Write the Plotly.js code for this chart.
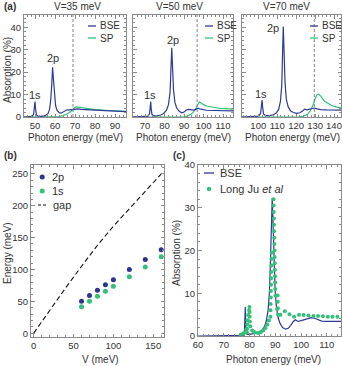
<!DOCTYPE html>
<html>
<head>
<meta charset="utf-8">
<script src="https://cdn.plot.ly/plotly-3.0.1.min.js"></script>
<style>html,body{margin:0;padding:0;background:#fff;}#plot{width:342px;height:366px;}</style>
</head>
<body>
<div id="plot"></div>
<script>
// ---------- Panel (a): absorption spectra ----------
const panelTitles = ["V=35 meV", "V=50 meV", "V=70 meV"];
const gapLines = [69, 96.7, 129.6];

const bse35X = [44.5, 47, 48.5, 49.3, 49.7, 50.0, 50.3, 50.7, 51.5, 53, 55, 56.5, 57.3, 57.9, 58.4, 58.8, 59.2, 59.7, 60.3, 61, 62, 63, 64, 65, 66, 67, 68.5, 70, 71.5, 73, 76, 80, 85, 90, 95.5];
const bse35Y = [0, 0.1, 0.3, 1.2, 3.5, 6.9, 3.5, 1.0, 0.4, 0.3, 0.6, 1.5, 3.5, 8, 15, 22.2, 17, 9, 5, 3, 2.0, 1.7, 2.2, 3.0, 3.2, 3.2, 3.4, 3.7, 3.6, 3.4, 3.2, 3.0, 2.8, 2.6, 2.4];
const sp35X = [44.5, 58, 60, 62, 64, 66, 68, 69, 70, 70.8, 72, 74, 77, 80, 85, 90, 95.5];
const sp35Y = [0, 0, 0.05, 0.2, 0.6, 1.3, 2.6, 3.6, 4.3, 4.5, 4.3, 4.0, 3.6, 3.3, 3.0, 2.7, 2.5];

const bse50X = [63.8, 67, 70, 71.5, 72.3, 72.7, 72.9, 73.1, 73.5, 74.5, 76, 78, 79.5, 81, 82, 82.8, 83.3, 83.7, 84.1, 84.6, 85.3, 86.2, 87.5, 88.8, 90, 91, 92.2, 93.5, 95, 96, 97, 98, 99.5, 101.5, 105, 110, 115.1];
const bse50Y = [0, 0.05, 0.15, 0.4, 1.5, 4, 6.9, 4, 1.2, 0.5, 0.5, 0.9, 1.6, 3, 5.5, 11, 20, 30.9, 22, 12, 6.5, 4, 2.5, 1.9, 2.2, 3.0, 3.4, 3.2, 3.1, 3.4, 3.9, 3.6, 3.2, 3.0, 2.9, 2.8, 2.7];
const sp50X = [63.8, 88, 90, 92, 94, 95.5, 96.5, 97.3, 97.8, 98.5, 100, 102, 105, 108, 111, 115.1];
const sp50Y = [0, 0, 0.1, 0.5, 1.5, 3.0, 4.8, 6.2, 6.8, 6.4, 5.5, 4.8, 4.2, 3.9, 3.7, 3.5];

const bse70X = [91.4, 95, 98, 100, 101.2, 101.7, 102.0, 102.3, 102.8, 104, 106, 108, 109.5, 110.8, 111.7, 112.4, 112.9, 113.2, 113.6, 114.1, 114.8, 115.8, 117, 118.5, 120.3, 122, 123.5, 124.5, 125.6, 127, 128.5, 129.5, 131, 133, 136, 140, 143.7];
const bse70Y = [0, 0.05, 0.15, 0.4, 1.5, 4.5, 7.5, 4.5, 1.3, 0.6, 0.6, 1.0, 1.8, 3.5, 7, 14, 28, 40.4, 30, 16, 8, 4.5, 2.8, 2.0, 1.6, 1.9, 2.8, 3.5, 3.2, 3.4, 3.9, 4.0, 3.6, 3.3, 3.2, 3.2, 3.1];
const sp70X = [91.4, 120, 122, 124, 126, 127.5, 129, 130.2, 131, 131.8, 133, 135, 137, 139, 141, 143.7];
const sp70Y = [0, 0, 0.1, 0.4, 1.2, 2.8, 5.5, 8.5, 9.9, 10.2, 9.3, 7.0, 5.8, 5.0, 4.5, 4.1];

// peak label positions [x, y] per panel
const label1s = [[50, 9.6], [72.6, 9.6], [101.5, 10.2]];
const label2p = [[59, 26.5], [84.5, 34.5], [108, 39.8]];

// ---------- Panel (b): energies vs V ----------
const vValues = [60, 70, 80, 90, 100, 120, 140, 160];
const energy2p = [50, 59, 67.5, 76, 84, 100, 115.5, 131];
const energy1s = [41.5, 50, 58, 66, 73.5, 88.5, 104, 120];
const gapV = [0, 20, 40, 60, 80, 100, 120, 140, 160];
const gapE = [0, 36, 71, 105, 138, 168, 195, 222, 250];

// ---------- Panel (c): comparison ----------
const bseCX = [60, 70, 76, 77.5, 78.0, 78.2, 78.35, 78.6, 79, 80, 82, 84, 85, 85.8, 86.5, 87.2, 87.7, 88.1, 88.5, 88.8, 89.1, 89.5, 89.9, 90.4, 91, 91.8, 92.8, 94, 95, 96, 97, 97.8, 98.8, 100, 102, 104, 105, 106.5, 108, 110, 112, 115.5];
const bseCY = [0, 0, 0.05, 0.15, 0.6, 3, 6.8, 0.8, 0.4, 0.4, 0.6, 1.0, 1.5, 2.2, 3.5, 6, 10, 17, 26, 32.3, 27, 18, 11, 7, 4.5, 3, 2.0, 1.6, 1.8, 2.5, 3.4, 3.8, 3.4, 3.6, 4.0, 4.3, 4.2, 3.8, 3.5, 3.4, 3.4, 3.4];
const juX = [76.5, 77.5, 78.3, 78.8, 79.0, 79.05, 79.1, 79.15, 79.5, 79.8, 80.0, 80.02, 80.05, 80.1, 80.3, 81.0, 82.0, 83.2, 84.3, 85.3, 86.2, 86.9, 87.5, 88.1, 88.15, 88.2, 88.25, 88.3, 88.35, 88.4, 88.45, 88.5, 88.55, 88.6, 89.3, 89.35, 89.4, 89.45, 89.5, 89.55, 89.6, 89.65, 89.7, 89.75, 89.8, 89.85, 89.9, 89.95, 90.0, 90.1, 90.9, 90.95, 91.0, 91.1, 90.7, 92.0, 93.7, 95.5, 97.3, 99.2, 101.0, 102.9, 104.8, 106.6, 108.5, 110.4, 112.2, 114.1];
const juY = [0.3, 0.6, 0.9, 1.6, 0.8, 1.7, 2.7, 3.7, 4.9, 6.0, 6.8, 5.6, 4.5, 3.4, 2.3, 1.3, 0.9, 0.7, 0.9, 1.3, 1.9, 2.7, 3.6, 4.5, 6, 7.5, 9, 10.5, 12, 13.5, 15, 16.5, 18, 19.5, 32, 30.5, 29, 27.5, 26, 24.5, 23, 21.5, 20, 18.5, 17, 15.5, 14, 12.5, 11, 9.5, 9.5, 8, 6.5, 5, 6.3, 5.0, 5.8, 5.1, 4.5, 5.0, 4.9, 4.8, 4.7, 4.7, 4.6, 4.5, 4.5, 4.5];

// ---------- styling ----------
const BLUE = '#2d3a97', GREEN = '#33c178', TXT = '#333333', AX = '#8a8a8a';
const FONT = 'Liberation Sans, Arial, sans-serif';
const W = 342, H = 366;
const px = v => v / W, py = v => 1 - v / H;

function axis(extra) {
  return Object.assign({
    showline: true, linecolor: AX, linewidth: 1, mirror: 'allticks',
    ticks: 'inside', ticklen: 3.5, tickcolor: AX, tickwidth: 1,
    showgrid: false, zeroline: false, fixedrange: true,
    tickfont: {family: FONT, size: 9.5, color: TXT}
  }, extra);
}

const topDom = [py(117), py(15)];
const xDoms = [[px(24), px(126)], [px(133), px(233)], [px(242), px(341)]];
const xRanges = [[44.5, 95.5], [63.8, 115.1], [91.4, 143.7]];
const bseX = [bse35X, bse50X, bse70X], bseY = [bse35Y, bse50Y, bse70Y];
const spX = [sp35X, sp50X, sp70X], spY = [sp35Y, sp50Y, sp70Y];

const traces = [];
const layout = {
  width: W, height: H, margin: {l: 0, r: 0, t: 0, b: 0},
  paper_bgcolor: '#fff', plot_bgcolor: '#fff', showlegend: false,
  font: {family: FONT, color: TXT, size: 10},
  shapes: [], annotations: []
};

const txt = (x, y, text, opt) => layout.annotations.push(Object.assign({
  xref: 'paper', yref: 'paper', x: px(x), y: py(y), text: text, showarrow: false,
  xanchor: 'center', yanchor: 'middle', font: {family: FONT, size: 10, color: TXT}
}, opt || {}));

for (let i = 0; i < 3; i++) {
  const s = i === 0 ? '' : String(i + 1);
  layout['xaxis' + s] = axis({domain: xDoms[i], anchor: 'y' + s, range: xRanges[i], dtick: 10, tick0: 0,
    minor: {ticks: 'inside', ticklen: 2, tickcolor: AX, dtick: 2}});
  layout['yaxis' + s] = axis({domain: topDom, anchor: 'x' + s, range: [0, 45.5], dtick: 10, tick0: 0,
    showticklabels: i === 0, minor: {ticks: 'inside', ticklen: 2, tickcolor: AX, dtick: 2}});
  traces.push({x: spX[i], y: spY[i], xaxis: 'x' + s, yaxis: 'y' + s, mode: 'lines', line: {color: GREEN, width: 1.2}, name: 'SP'});
  traces.push({x: bseX[i], y: bseY[i], xaxis: 'x' + s, yaxis: 'y' + s, mode: 'lines', line: {color: BLUE, width: 1.2}, name: 'BSE'});
  layout.shapes.push({type: 'line', xref: 'x' + s, yref: 'y' + s + ' domain', x0: gapLines[i], x1: gapLines[i], y0: 0, y1: 1,
    line: {color: '#777', width: 0.9, dash: '3px,2px'}});
  layout.annotations.push({xref: 'x' + s, yref: 'y' + s, x: label1s[i][0], y: label1s[i][1], text: '1s', showarrow: false,
    font: {family: FONT, size: 11, color: TXT}});
  layout.annotations.push({xref: 'x' + s, yref: 'y' + s, x: label2p[i][0], y: label2p[i][1], text: '2p', showarrow: false,
    font: {family: FONT, size: 11, color: TXT}});
}
// panel titles and x titles
const titleX = [77.5, 179, 286];
const xTitleX = [75, 183, 292];
for (let i = 0; i < 3; i++) {
  txt(titleX[i], 6, panelTitles[i]);
  txt(xTitleX[i], 137, 'Photon energy (meV)');
}
txt(7, 70, 'Absorption (%)', {textangle: -90});
txt(2, 6, '<b>(a)</b>', {xanchor: 'left'});
// top legends
const legX = [88, 205, 310];
for (let i = 0; i < 3; i++) {
  layout.shapes.push({type: 'line', xref: 'paper', yref: 'paper', x0: px(legX[i]), x1: px(legX[i] + 8), y0: py(26), y1: py(26), line: {color: BLUE, width: 1.3}});
  layout.shapes.push({type: 'line', xref: 'paper', yref: 'paper', x0: px(legX[i]), x1: px(legX[i] + 8), y0: py(38), y1: py(38), line: {color: GREEN, width: 1.3}});
  txt(legX[i] + 10, 26, 'BSE', {xanchor: 'left'});
  txt(legX[i] + 10, 38, 'SP', {xanchor: 'left'});
}

// ---------- panel (b) ----------
layout.xaxis4 = axis({domain: [px(31), px(164)], anchor: 'y4', range: [-3.4, 163.5], dtick: 50, tick0: 0,
  minor: {ticks: 'inside', ticklen: 2, tickcolor: AX, dtick: 10}});
layout.yaxis4 = axis({domain: [py(337), py(165)], anchor: 'x4', range: [-6, 264], dtick: 50, tick0: 0,
  minor: {ticks: 'inside', ticklen: 2, tickcolor: AX, dtick: 10}});
traces.push({x: gapV, y: gapE, xaxis: 'x4', yaxis: 'y4', mode: 'lines', line: {color: '#111', width: 1.1, dash: '5px,3px'}, name: 'gap'});
traces.push({x: vValues, y: energy2p, xaxis: 'x4', yaxis: 'y4', mode: 'markers', marker: {color: '#2b3590', size: 5}, name: '2p'});
traces.push({x: vValues, y: energy1s, xaxis: 'x4', yaxis: 'y4', mode: 'markers', marker: {color: GREEN, size: 5}, name: '1s'});
txt(2, 155, '<b>(b)</b>', {xanchor: 'left'});
txt(7, 253, 'Energy (meV)', {textangle: -90});
txt(100, 359, 'V (meV)');
// legend b
layout.shapes.push({type: 'circle', xref: 'paper', yref: 'paper', x0: px(39.7), x1: px(44.7), y0: py(174.5), y1: py(179.5), fillcolor: '#2b3590', line: {width: 0}});
layout.shapes.push({type: 'circle', xref: 'paper', yref: 'paper', x0: px(39.7), x1: px(44.7), y0: py(188.5), y1: py(193.5), fillcolor: GREEN, line: {width: 0}});
layout.shapes.push({type: 'line', xref: 'paper', yref: 'paper', x0: px(38), x1: px(48), y0: py(205), y1: py(205), line: {color: '#111', width: 1.1, dash: '3px,2px'}});
txt(50, 177, '2p', {xanchor: 'left', font: {family: FONT, size: 11, color: TXT}});
txt(50, 191, '1s', {xanchor: 'left', font: {family: FONT, size: 11, color: TXT}});
txt(51, 205, 'gap', {xanchor: 'left', font: {family: FONT, size: 11, color: TXT}});

// ---------- panel (c) ----------
layout.xaxis5 = axis({domain: [px(198), px(341)], anchor: 'y5', range: [60, 115.5], dtick: 10, tick0: 0,
  minor: {ticks: 'inside', ticklen: 2, tickcolor: AX, dtick: 2}});
layout.yaxis5 = axis({domain: [py(336), py(165)], anchor: 'x5', range: [0, 40], dtick: 10, tick0: 0,
  minor: {ticks: 'inside', ticklen: 2, tickcolor: AX, dtick: 2}});
traces.push({x: bseCX, y: bseCY, xaxis: 'x5', yaxis: 'y5', mode: 'lines', line: {color: BLUE, width: 1.2}, name: 'BSE'});
traces.push({x: juX, y: juY, xaxis: 'x5', yaxis: 'y5', mode: 'markers', marker: {color: GREEN, size: 4}, name: 'Long Ju et al'});
txt(171, 155, '<b>(c)</b>', {xanchor: 'left'});
txt(176, 253, 'Absorption (%)', {textangle: -90});
txt(273, 359, 'Photon energy (meV)');
layout.shapes.push({type: 'line', xref: 'paper', yref: 'paper', x0: px(204), x1: px(214), y0: py(173), y1: py(173), line: {color: BLUE, width: 1.3}});
layout.shapes.push({type: 'circle', xref: 'paper', yref: 'paper', x0: px(206.8), x1: px(211.2), y0: py(186.8), y1: py(191.2), fillcolor: GREEN, line: {width: 0}});
txt(218, 173, 'BSE', {xanchor: 'left', font: {family: FONT, size: 11, color: TXT}});
txt(218, 189, 'Long Ju <i>et al</i>', {xanchor: 'left', font: {family: FONT, size: 11, color: TXT}});

Plotly.newPlot('plot', traces, layout, {displayModeBar: false, staticPlot: true});
</script>
</body>
</html>
